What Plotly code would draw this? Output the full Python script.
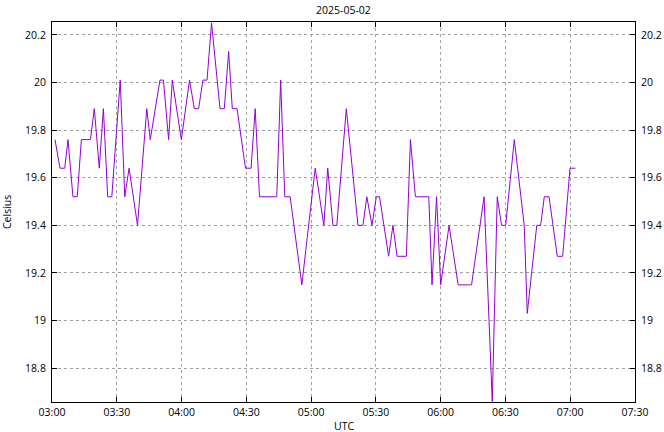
import plotly.graph_objects as go

DATE = "2025-05-02"
times = [
    "03:01:24", "03:03:42", "03:05:54", "03:07:24", "03:09:42", "03:11:42", "03:13:36",
    "03:17:48", "03:19:36", "03:21:54", "03:23:48", "03:25:48", "03:27:42", "03:31:36",
    "03:33:42", "03:35:42", "03:39:36", "03:43:54", "03:45:30", "03:50:00", "03:51:36",
    "03:54:00", "03:55:42", "03:59:54", "04:03:42", "04:05:54", "04:07:54", "04:09:54",
    "04:11:48", "04:13:54", "04:17:48", "04:19:48", "04:21:48", "04:23:30", "04:25:42",
    "04:29:36", "04:32:12", "04:34:06", "04:36:06", "04:44:06", "04:45:54", "04:47:48",
    "04:50:18", "04:55:42", "05:01:54", "05:05:54", "05:07:42", "05:10:06", "05:11:54",
    "05:16:18", "05:21:42", "05:24:00", "05:25:48", "05:28:12", "05:30:12", "05:31:42",
    "05:35:54", "05:37:54", "05:39:48", "05:44:06", "05:46:00", "05:48:18", "05:54:30",
    "05:56:00", "05:58:06", "06:00:00", "06:03:54", "06:08:06", "06:14:18", "06:20:06",
    "06:23:54", "06:26:12", "06:28:12", "06:30:06", "06:34:06", "06:38:42", "06:40:06",
    "06:44:30", "06:46:18", "06:48:00", "06:50:12", "06:54:00", "06:56:30", "06:59:54",
    "07:02:24",
]
celsius = [
    19.76, 19.64, 19.64, 19.76, 19.52, 19.52, 19.76,
    19.76, 19.89, 19.64, 19.89, 19.52, 19.52, 20.01,
    19.52, 19.64, 19.40, 19.89, 19.76, 20.01, 20.01,
    19.76, 20.01, 19.76, 20.01, 19.89, 19.89, 20.01,
    20.01, 20.25, 19.89, 19.89, 20.13, 19.89, 19.89,
    19.64, 19.64, 19.89, 19.52, 19.52, 20.01, 19.52,
    19.52, 19.15, 19.64, 19.40, 19.64, 19.40, 19.40,
    19.89, 19.40, 19.40, 19.52, 19.40, 19.52, 19.52,
    19.27, 19.40, 19.27, 19.27, 19.76, 19.52, 19.52,
    19.15, 19.52, 19.15, 19.40, 19.15, 19.15, 19.52,
    18.66, 19.52, 19.40, 19.40, 19.76, 19.40, 19.03,
    19.40, 19.40, 19.52, 19.52, 19.27, 19.27, 19.64,
    19.64,
]
y_ticks = [18.8, 19.0, 19.2, 19.4, 19.6, 19.8, 20.0, 20.2]
y_tick_labels = ["18.8", "19", "19.2", "19.4", "19.6", "19.8", "20", "20.2"]
x_range = ["03:00", "07:30"]

x = [f"{DATE} {t}" for t in times]
FONT = dict(family="Open Sans", size=10.5, color="#000000")
GRID = "#a0a0a0"

fig = go.Figure()
fig.add_trace(go.Scatter(x=x, y=celsius, mode="lines",
                         line=dict(color="#9400d3", width=1), showlegend=False))
# invisible trace for right axis labels
fig.add_trace(go.Scatter(x=x, y=celsius, mode="lines", yaxis="y2",
                         line=dict(color="rgba(0,0,0,0)", width=0),
                         showlegend=False, hoverinfo="skip"))

yr = [min(celsius) - 0.002, max(celsius) + 0.004]
fig.update_layout(
    width=664, height=432,
    margin=dict(l=52, r=29, t=22, b=30, autoexpand=False),
    paper_bgcolor="white", plot_bgcolor="white",
    font=FONT,
    xaxis=dict(
        type="date", automargin=False,
        range=[f"{DATE} {x_range[0]}", f"{DATE} {x_range[1]}"],
        dtick=30 * 60 * 1000, tick0=f"{DATE} 03:00",
        tickformat="%H:%M",
        showgrid=True, gridcolor=GRID, griddash="dot", gridwidth=1,
        showline=True, linecolor="black", linewidth=1, mirror="ticks",
        ticks="inside", ticklen=5, tickcolor="black",
        tickfont=FONT, zeroline=False,
    ),
    yaxis=dict(
        range=yr, tickvals=y_ticks, ticktext=y_tick_labels, automargin=False,
        showgrid=True, gridcolor=GRID, griddash="dot", gridwidth=1,
        showline=True, linecolor="black", linewidth=1, mirror="ticks",
        ticks="inside", ticklen=5, tickcolor="black",
        tickfont=FONT, zeroline=False, ticklabelstandoff=3,
    ),
    yaxis2=dict(
        range=yr, tickvals=y_ticks, ticktext=y_tick_labels, automargin=False,
        overlaying="y", side="right", showgrid=False, showline=False,
        ticks="", tickfont=FONT, zeroline=False, ticklabelstandoff=5,
    ),
    annotations=[
        dict(text=DATE, x=0.5, y=1, xref="paper", yref="paper", xanchor="center",
             yanchor="bottom", yshift=3, showarrow=False, font=FONT),
        dict(text="UTC", x=0.5, y=0, xref="paper", yref="paper", xanchor="center",
             yanchor="top", yshift=-15, showarrow=False, font=FONT),
        dict(text="Celsius", x=0, y=0.5, xref="paper", yref="paper", xanchor="center",
             yanchor="middle", xshift=-45, textangle=-90, showarrow=False, font=FONT),
    ],
)
fig.write_html("out.html", config={"displayModeBar": False},
               post_script="document.body.style.margin='0';")
